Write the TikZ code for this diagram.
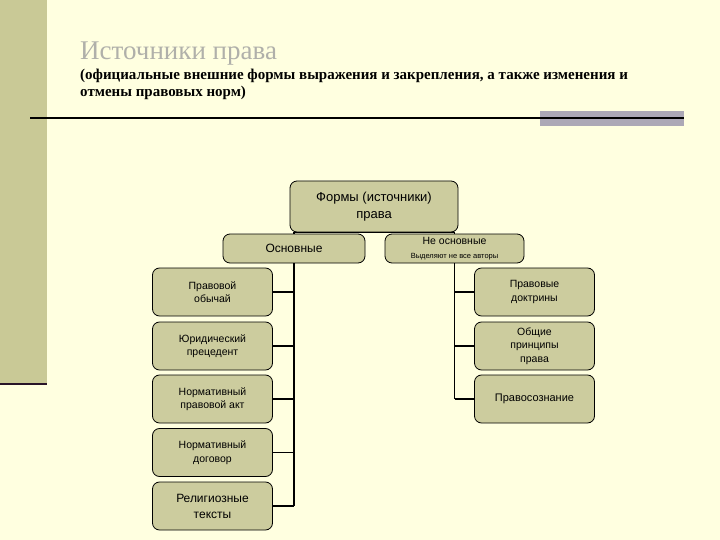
\documentclass[tikz,border=0pt]{standalone}
\usepackage{fontspec}
\setmainfont{Liberation Serif}
\newfontfamily\arialf{Liberation Sans}
\definecolor{paper}{RGB}{255,255,224}
\definecolor{band}{RGB}{201,201,150}
\definecolor{boxfill}{RGB}{204,204,158}
\definecolor{rulegrey}{RGB}{172,168,182}
\definecolor{titlegrey}{RGB}{176,176,170}
\tikzset{
  box/.style={draw=black, fill=boxfill, rounded corners=7pt, inner sep=0pt, align=center,
    line width=0.8pt, font=\arialf\fontsize{10.5}{13.5}\selectfont},
  leaf/.style={box, minimum width=120pt, minimum height=48pt},
  link/.style={line width=1.6pt}
}
\begin{document}
\begin{tikzpicture}[x=1pt,y=-1pt]
            \fill[paper] (0,0) rectangle (720,540);
            \useasboundingbox (0,0) rectangle (720,540);
            \fill[band] (0,0) rectangle (47,383);
            \draw[line width=2.5pt, color={rgb,255:red,40;green,20;blue,40}] (0,384) -- (47,384);
            \fill[rulegrey] (540,111) rectangle (684,126);
            \draw[line width=2pt] (30,118) -- (684,118);

            \node at (80,60) [anchor=base west, inner sep=0pt, text=titlegrey, font=\fontsize{27}{29}\selectfont] (title) {Источники права};
            \node at (80,97) [anchor=base west, inner sep=0pt, align=left, font=\bfseries\fontsize{15}{17}\selectfont] (subtitle)
                {(официальные внешние формы выражения и закрепления, а также изменения и\\отмены правовых норм)};

            \node at (374,206.5) [box, minimum width=168pt, minimum height=51pt, font=\arialf\fontsize{13}{17}\selectfont] (forms) {Формы (источники)\\права};
            \node at (294,248.5) [box, minimum width=142pt, minimum height=29pt, font=\arialf\fontsize{12}{14}\selectfont] (main) {Основные};
            \node at (454.5,248.5) [box, minimum width=139pt, minimum height=29pt] (extra)
                {Не основные\\{\fontsize{7.5}{9}\selectfont Выделяют не все авторы}};

            \node at (212.5,292) [leaf] (custom) {Правовой\\обычай};
            \node at (212.5,346) [leaf] (precedent) {Юридический\\прецедент};
            \node at (212.5,399) [leaf] (act) {Нормативный\\правовой акт};
            \node at (212.5,452.5) [leaf] (treaty) {Нормативный\\договор};
            \node at (212.5,506) [leaf, font=\arialf\fontsize{12}{16}\selectfont] (relig) {Религиозные\\тексты};

            \node at (534.5,292) [leaf] (doctrine) {Правовые\\доктрины};
            \node at (534.5,346) [leaf] (principles) {Общие\\принципы\\права};
            \node at (534.5,399) [leaf, font=\arialf\fontsize{11}{13}\selectfont] (sense) {Правосознание};

            \draw[link] (main.north) -- (main.north |- forms.south) -- (extra.north |- forms.south) -- (extra.north);
            \draw[link] (main.south) -- (main.south |- relig.east);
            \draw[link] (extra.south) -- (extra.south |- sense.west);
            \foreach \n in {custom, precedent, act, treaty, relig}
                \draw[link] (\n.east) -- (\n.east -| main.south);
            \foreach \n in {doctrine, principles, sense}
                \draw[link] (\n.west) -- (\n.west -| extra.south);
        \end{tikzpicture}
\end{document}
